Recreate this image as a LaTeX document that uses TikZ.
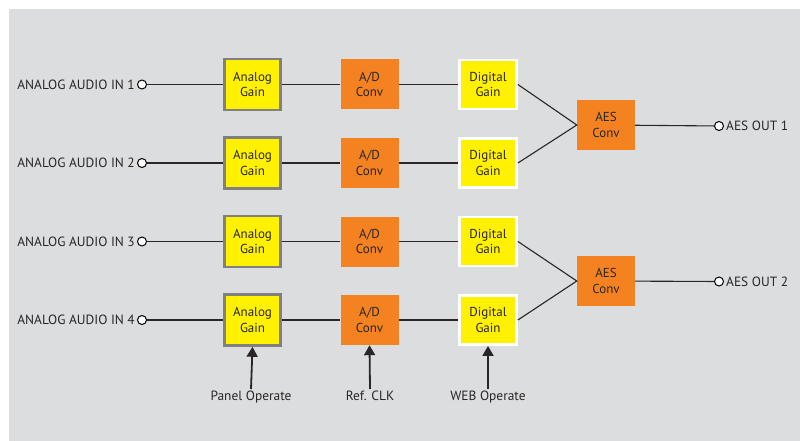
\documentclass[tikz,border=0pt]{standalone}
\usepackage{fontspec}
\setmainfont{PT Sans}
\usetikzlibrary{positioning, arrows.meta}
\definecolor{panelgray}{RGB}{220, 221, 223}
\definecolor{gainyellow}{RGB}{255, 241, 0}
\definecolor{convorange}{RGB}{245, 130, 32}
\definecolor{edgegray}{RGB}{128, 128, 128}
\definecolor{txtgray}{RGB}{40, 38, 38}
\tikzset{
  againbox/.style={
    draw=edgegray, line width=2.6pt, fill=gainyellow,
    minimum width=56pt, minimum height=51pt,
    text=txtgray, align=center, inner sep=0pt,
    font=\fontsize{13}{15.5}\selectfont
  },
  dgainbox/.style={
    draw=white, line width=2.8pt, fill=gainyellow,
    minimum width=57pt, minimum height=49pt,
    text=txtgray, align=center, inner sep=0pt,
    font=\fontsize{13}{15.5}\selectfont
  },
  convbox/.style={
    fill=convorange,
    minimum width=58pt, minimum height=50pt,
    text=txtgray, align=center, inner sep=0pt,
    font=\fontsize{13}{15.5}\selectfont
  },
  jack/.style={draw=black, fill=white, line width=1pt, circle, minimum size=9pt, inner sep=0pt},
  wire/.style={draw=txtgray, line width=1.1pt},
  ctrl/.style={-{Triangle[width=11pt, length=10pt]}, draw=txtgray, fill=txtgray, line width=1.8pt},
  iolbl/.style={text=txtgray, inner sep=2pt, font=\fontsize{13.4}{15}\selectfont}
}

\begin{document}
\begin{tikzpicture}[x=1pt, y=-1pt]

% Hintergrund
\useasboundingbox (0, 0) rectangle (802, 441);
\fill[panelgray] (9, 9) rectangle (800, 441);

% Eingaenge
\node[jack] (in1) at (142, 84.5) {};
\node[jack] (in2) at (142, 163) {};
\node[jack] (in3) at (142, 241.5) {};
\node[jack] (in4) at (142, 320) {};
\node[iolbl, anchor=east] (inlbl1) at (in1.west) {ANALOG AUDIO IN 1};
\node[iolbl, anchor=east] (inlbl2) at (in2.west) {ANALOG AUDIO IN 2};
\node[iolbl, anchor=east] (inlbl3) at (in3.west) {ANALOG AUDIO IN 3};
\node[iolbl, anchor=east] (inlbl4) at (in4.west) {ANALOG AUDIO IN 4};

% Analog Gain
\node[againbox] (ag1) at (252.5, 84.5) {Analog\\Gain};
\node[againbox] (ag2) at (252.5, 163) {Analog\\Gain};
\node[againbox] (ag3) at (252.5, 241.5) {Analog\\Gain};
\node[againbox] (ag4) at (252.5, 320) {Analog\\Gain};

% A/D Conv
\node[convbox] (ad1) at (369.5, 84.5) {A/D\\Conv};
\node[convbox] (ad2) at (369.5, 163) {A/D\\Conv};
\node[convbox] (ad3) at (369.5, 241.5) {A/D\\Conv};
\node[convbox] (ad4) at (369.5, 320) {A/D\\Conv};

% Digital Gain
\node[dgainbox] (dg1) at (488, 84.5) {Digital\\Gain};
\node[dgainbox] (dg2) at (488, 163) {Digital\\Gain};
\node[dgainbox] (dg3) at (488, 241.5) {Digital\\Gain};
\node[dgainbox] (dg4) at (488, 320) {Digital\\Gain};

% AES Conv und Ausgaenge
\node[convbox] (aes1) at (606, 125) {AES\\Conv};
\node[convbox] (aes2) at (606, 281) {AES\\Conv};
\node[jack] (out1) at (719, 126) {};
\node[jack] (out2) at (719, 281.5) {};
\node[iolbl, anchor=west] (outlbl1) at (out1.east) {AES OUT 1};
\node[iolbl, anchor=west] (outlbl2) at (out2.east) {AES OUT 2};

% Signalwege
\draw[wire] (in1) -- (ag1) -- (ad1) -- (dg1);
\draw[wire] (in2) -- (ag2) -- (ad2) -- (dg2);
\draw[wire] (in3) -- (ag3) -- (ad3) -- (dg3);
\draw[wire] (in4) -- (ag4) -- (ad4) -- (dg4);
\draw[wire] (dg1.east) -- (aes1.west) -- (dg2.east);
\draw[wire] (dg3.east) -- (aes2.west) -- (dg4.east);
\draw[wire] (aes1) -- (out1);
\draw[wire] (aes2) -- (out2);

% Steuerung
\node[iolbl, anchor=north] (panel) at (251, 389) {Panel Operate};
\node[iolbl, anchor=north] (refclk) at (370, 389) {Ref. CLK};
\node[iolbl, anchor=north] (web) at (488, 389) {WEB Operate};
\draw[ctrl] (panel.north) -- (ag4.south);
\draw[ctrl] (refclk.north) -- (ad4.south);
\draw[ctrl] (web.north) -- (dg4.south);

\end{tikzpicture}
\end{document}
